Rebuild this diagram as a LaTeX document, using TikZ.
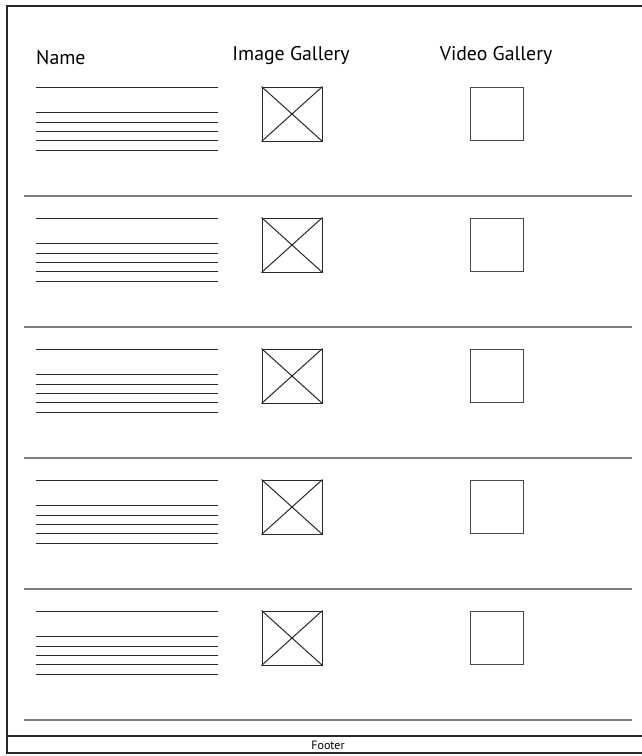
\documentclass[tikz,border=0pt]{standalone}
\usepackage{fontspec}
\setmainfont{PT Sans}
\usetikzlibrary{positioning}
\definecolor{inkgray}{RGB}{40,40,40}
\definecolor{rulegray}{RGB}{125,125,125}

\begin{document}
\begin{tikzpicture}[x=1pt,y=-1pt,
  head/.style={font=\fontsize{19.8}{23}\selectfont,inner sep=0pt,text=black},
  txtline/.style={draw=inkgray,line width=1pt},
  imgbox/.style={draw=inkgray,line width=1pt,minimum width=60pt,minimum height=54pt,inner sep=0pt},
  vidbox/.style={draw=inkgray!85,line width=1pt,minimum width=53pt,minimum height=53pt,inner sep=0pt},
  sepline/.style={draw=rulegray,line width=1.4pt},
  pageframe/.style={draw=inkgray,line width=1.5pt}]
  \useasboundingbox (0,0) rectangle (641,756);
  % page frame, open on the right
  \draw[pageframe] (645,6) -- (7,6) -- (7,753) -- (645,753);
  \draw[pageframe] (7,736) -- (645,736);
  \node[font=\fontsize{12}{14}\selectfont,anchor=base,inner sep=0pt] (footer) at (328,749) {Footer};
  % column heads
  \node[head,anchor=base west] (name) at (36,64) {Name};
  \node[head,anchor=base] (imghead) at (291,60) {Image Gallery};
  \node[head,anchor=base] (vidhead) at (496,60) {Video Gallery};
  % rows
  \foreach \r in {1,...,5}{
    \pgfmathsetmacro\y{87+(\r-1)*131}
    \draw[txtline] (35.5,\y) -- (217.5,\y);
    \foreach \k in {0,...,4}
      \draw[txtline] (35.5,\y+25.7+\k*9.35) -- (217.5,\y+25.7+\k*9.35);
    \node[imgbox] (img\r) at (292,\y+27) {};
    \draw[txtline] (img\r.north west) -- (img\r.south east)
                   (img\r.north east) -- (img\r.south west);
    \node[vidbox] (vid\r) at (496.5,\y+26.5) {};
    \draw[sepline] (24,\y+109) -- (632,\y+109);
  }
\end{tikzpicture}
\end{document}
